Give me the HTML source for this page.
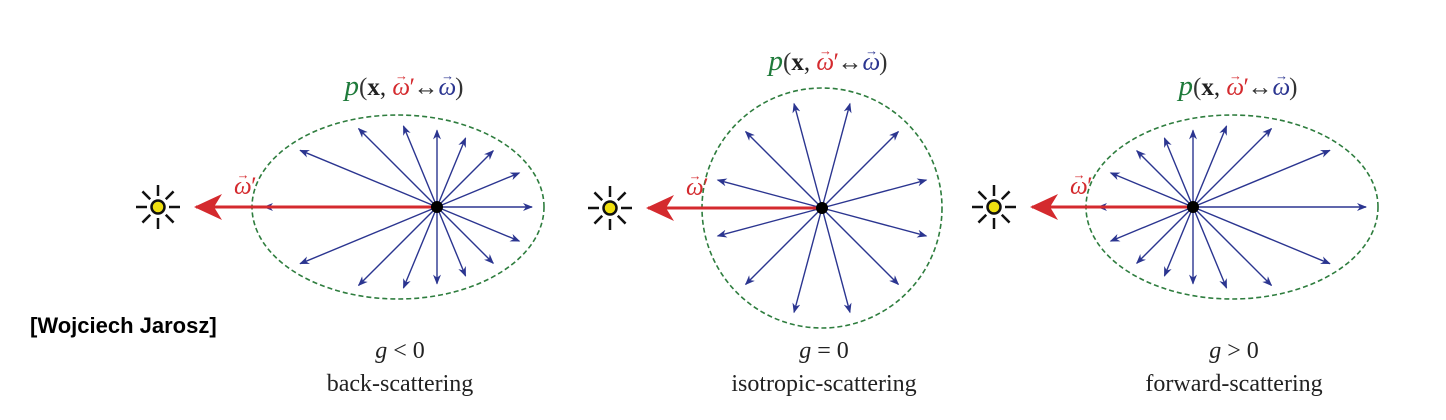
<!DOCTYPE html>
<html><head><meta charset="utf-8"><style>
html,body{margin:0;padding:0;background:#fff;}
svg{display:block;}
.lab{font-family:"Liberation Serif",serif;font-size:24px;fill:#222;}
.f{font-family:"Liberation Serif",serif;font-size:25px;}
</style></head><body>
<svg id="fig" width="1446" height="420" viewBox="0 0 1446 420">
<defs>
<marker id="ab" markerWidth="10" markerHeight="8" refX="9" refY="4" orient="auto" markerUnits="userSpaceOnUse"><path d="M0,0 L10,4 L0,8 L3,4 Z" fill="#2b3590"/></marker>
<marker id="ar" markerWidth="30" markerHeight="26" refX="26" refY="13" orient="auto" markerUnits="userSpaceOnUse"><path d="M28,13 L0,0 L8,13 L0,26 Z" fill="#d42a2e"/></marker>
</defs>
<text x="30" y="333" font-family="Liberation Sans, sans-serif" font-weight="bold" font-size="22" fill="#000">[Wojciech Jarosz]</text>
</svg>
<script>
const panelNames=["back-scattering","isotropic-scattering","forward-scattering"];
const gLabels=["g < 0","g = 0","g > 0"];
const centerX=[398,822,1232];
const centerY=[207,208,207];
const radiusX=[146,120,146];
const radiusY=[92,120,92];
const pointX=[437,822,1193];
const sunX=[158,610,994];
const arrowCounts=[16,12,16];
const arrowOffsets=[0,15,0];
const formulaY=[95,70,95];
const NS="http://www.w3.org/2000/svg";
const svg=document.getElementById('fig');
function mk(t,a,p){const e=document.createElementNS(NS,t);for(const k in a)e.setAttribute(k,a[k]);(p||svg).appendChild(e);return e;}
const vecW=(c)=>'<tspan fill="'+c+'" font-style="italic">ω</tspan><tspan fill="'+c+'" font-size="13" dx="-15" dy="-15">→</tspan>';
for(let i=0;i<3;i++){
  const g=mk('g',{});
  
  
  const cx=centerX[i],cy=centerY[i],rx=radiusX[i],ry=radiusY[i],px=pointX[i],py=cy;
  const el=mk('ellipse',{cx:cx,cy:cy,rx:rx,ry:ry,fill:'none',stroke:'#2e7d3e','stroke-width':1.6,'stroke-dasharray':'5,3'},g);
  
  
  for(let k=0;k<arrowCounts[i];k++){
    const a=(arrowOffsets[i]+k*360/arrowCounts[i])*Math.PI/180;
    const dx=Math.cos(a),dy=-Math.sin(a);
    const A=dx*dx/(rx*rx)+dy*dy/(ry*ry);
    const B=2*((px-cx)*dx/(rx*rx)+(py-cy)*dy/(ry*ry));
    const C=(px-cx)*(px-cx)/(rx*rx)+(py-cy)*(py-cy)/(ry*ry)-1;
    const t=(-B+Math.sqrt(B*B-4*A*C))/(2*A)-12;
    const ln=mk('line',{x1:px,y1:py,x2:px+dx*t,y2:py+dy*t,stroke:'#2b3590','stroke-width':1.4,'marker-end':'url(#ab)'},g);
    
    
  }
  const red=mk('line',{x1:px,y1:py,x2:sunX[i]+38,y2:py,stroke:'#d42a2e','stroke-width':3,'marker-end':'url(#ar)'},g);
  
  
  const dot=mk('circle',{cx:px,cy:py,r:6,fill:'#000'},g);
  
  
  const sun=mk('g',{},g);
  
  
  for(let k=0;k<8;k++){const a=k*Math.PI/4;mk('line',{x1:sunX[i]+Math.cos(a)*11,y1:py+Math.sin(a)*11,x2:sunX[i]+Math.cos(a)*22,y2:py+Math.sin(a)*22,stroke:'#111','stroke-width':2.5},sun);}
  mk('circle',{cx:sunX[i],cy:py,r:6.5,fill:'#f0e010',stroke:'#111','stroke-width':2.5},sun);
  const w=mk('text',{x:sunX[i]+76,y:py-13,'font-family':'Liberation Serif, serif','font-size':25},g);
  w.innerHTML=vecW('#d42a2e')+'<tspan fill="#d42a2e" font-style="italic" dy="15">′</tspan>';
  
  
  const f=mk('text',{x:cx+6,y:formulaY[i],'text-anchor':'middle',class:'f'},g);
  
  
  f.innerHTML='<tspan fill="#1e7a3a" font-style="italic" font-size="29">p</tspan><tspan fill="#333">(</tspan><tspan fill="#222" font-weight="bold">x</tspan><tspan fill="#222">, </tspan>'+vecW('#d42a2e')+'<tspan fill="#d42a2e" font-style="italic" dy="15">′</tspan><tspan fill="#333">↔</tspan>'+vecW('#2b3590')+'<tspan fill="#333" dy="15" dx="1">)</tspan>';
  const gl=mk('text',{x:cx+2,y:358,'text-anchor':'middle',class:'lab'},g);
  gl.innerHTML='<tspan font-style="italic">g</tspan>'+gLabels[i].slice(1);
  
  
  const nl=mk('text',{x:cx+2,y:391,'text-anchor':'middle',class:'lab'},g);
  nl.textContent=panelNames[i];
  
  
}
</script>
</body></html>
